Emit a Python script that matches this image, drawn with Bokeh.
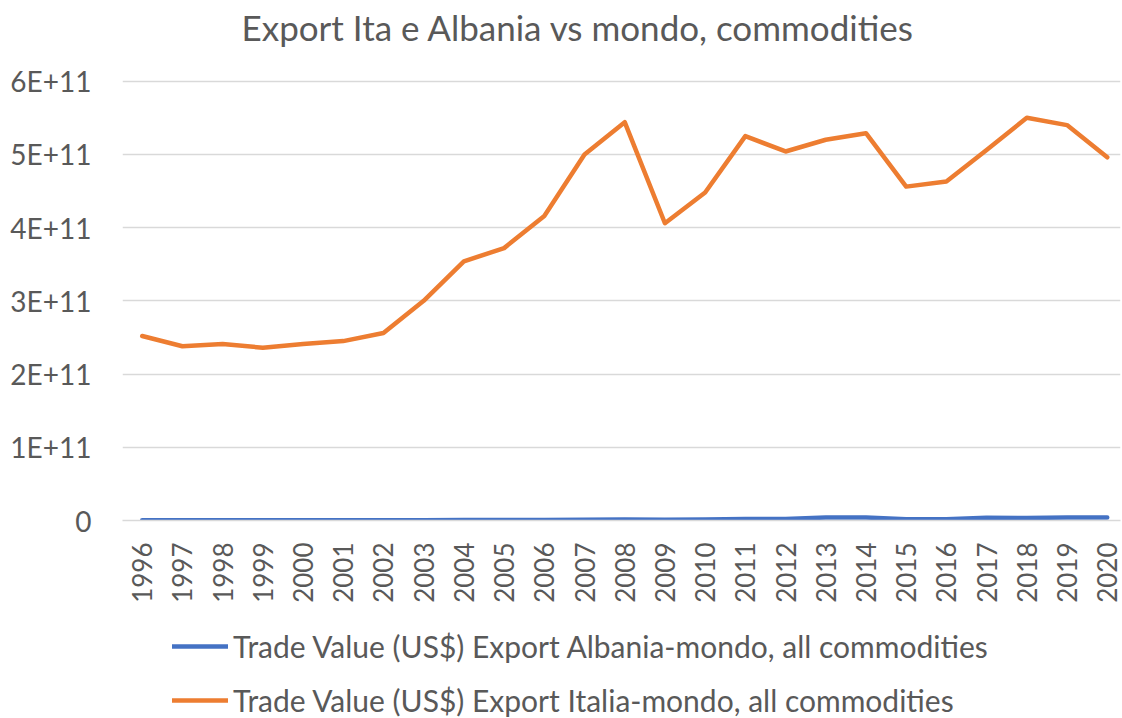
import math
from bokeh.plotting import figure
from bokeh.layouts import column
from bokeh.models import (ColumnDataSource, FixedTicker, CustomJSTickFormatter,
                          Legend, LegendItem, Range1d, Title)
from bokeh.embed import file_html
from bokeh.resources import INLINE

years = list(range(1996, 2021))
italia = [2.52e11, 2.38e11, 2.41e11, 2.36e11, 2.41e11, 2.45e11, 2.56e11, 3.00e11,
          3.54e11, 3.72e11, 4.16e11, 5.00e11, 5.44e11, 4.06e11, 4.48e11, 5.25e11,
          5.04e11, 5.20e11, 5.29e11, 4.56e11, 4.63e11, 5.06e11, 5.50e11, 5.40e11,
          4.96e11]
albania = [0.2e9, 0.2e9, 0.3e9, 0.4e9, 0.3e9, 0.3e9, 0.3e9, 0.4e9,
           0.6e9, 0.7e9, 0.8e9, 1.1e9, 1.3e9, 1.1e9, 1.5e9, 1.9e9,
           2.0e9, 4.0e9, 4.2e9, 1.6e9, 1.8e9, 3.8e9, 3.5e9, 4.0e9,
           4.0e9]
y_ticks = [0, 1e11, 2e11, 3e11, 4e11, 5e11, 6e11]
label_alb = "Trade Value (US$) Export Albania-mondo, all commodities"
label_ita = "Trade Value (US$) Export Italia-mondo, all commodities"
title_text = "Export Ita e Albania vs mondo, commodities"

FONT = "Lato"
GRAY = "#595959"
BLUE = "#4472C4"
ORANGE = "#ED7D31"


def blank(h):
    f = figure(width=1122, height=h, output_backend="svg", toolbar_location=None,
               x_range=Range1d(0, 1), y_range=Range1d(0, 1),
               min_border_left=0, min_border_right=0, min_border_top=0,
               min_border_bottom=0)
    f.axis.visible = False
    f.grid.visible = False
    f.outline_line_color = None
    f.background_fill_color = "white"
    f.border_fill_color = "white"
    return f


# title strip
t = blank(62)
t.title = Title(text=title_text, align="left", offset=119, standoff=6,
                text_font=FONT, text_font_size="35px", text_font_style="normal",
                text_color=GRAY)

# main chart
src = ColumnDataSource(dict(year=years, ita=italia, alb=albania))

p = figure(width=1122, height=556, output_backend="svg", toolbar_location=None,
           x_range=Range1d(1995.51, 2020.33), y_range=Range1d(0, 6.023e11),
           min_border_left=122, min_border_right=2, min_border_top=17,
           min_border_bottom=98)
p.outline_line_color = None
p.background_fill_color = "white"
p.border_fill_color = "white"

p.line("year", "alb", source=src, line_color=BLUE, line_width=4.5,
       line_cap="round", line_join="round")
p.line("year", "ita", source=src, line_color=ORANGE, line_width=4.5,
       line_cap="round", line_join="round")

p.yaxis.ticker = FixedTicker(ticks=y_ticks)
p.yaxis.formatter = CustomJSTickFormatter(
    code="return tick == 0 ? '0' : Math.round(tick/1e11) + 'E+11';")
p.yaxis.axis_line_color = None
p.yaxis.major_tick_line_color = None
p.yaxis.major_tick_out = 0
p.yaxis.major_tick_in = 0
p.yaxis.minor_tick_line_color = None
p.yaxis.major_label_text_font = FONT
p.yaxis.major_label_text_font_size = "28px"
p.yaxis.major_label_text_color = GRAY
p.yaxis.major_label_standoff = 31

p.xaxis.ticker = FixedTicker(ticks=years)
p.xaxis.axis_line_color = "#d9d9d9"
p.xaxis.axis_line_width = 1.5
p.xaxis.major_tick_line_color = None
p.xaxis.major_tick_out = 0
p.xaxis.major_tick_in = 0
p.xaxis.minor_tick_line_color = None
p.xaxis.major_label_orientation = math.pi / 2
p.xaxis.major_label_text_font = FONT
p.xaxis.major_label_text_font_size = "26px"
p.xaxis.major_label_text_color = GRAY
p.xaxis.major_label_standoff = 22

p.xgrid.grid_line_color = None
p.ygrid.ticker = FixedTicker(ticks=y_ticks)
p.ygrid.grid_line_color = "#d9d9d9"
p.ygrid.grid_line_width = 1.5

# legend strip below the chart
q = blank(100)
l_alb = q.line(x=[-5, -4], y=[-5, -4], line_color=BLUE, line_width=4.5,
               line_cap="round")
l_ita = q.line(x=[-5, -4], y=[-5, -4], line_color=ORANGE, line_width=4.5,
               line_cap="round")

legend = Legend(items=[LegendItem(label=label_alb, renderers=[l_alb]),
                       LegendItem(label=label_ita, renderers=[l_ita])],
                orientation="vertical", location=(50, 0))
legend.border_line_color = None
legend.background_fill_alpha = 0
legend.label_text_font = FONT
legend.label_text_font_size = "30px"
legend.label_text_color = GRAY
legend.glyph_width = 56
legend.glyph_height = 30
legend.label_height = 30
legend.spacing = 18
legend.label_standoff = 5
legend.padding = 0
legend.margin = 0
q.add_layout(legend)

layout = column(t, p, q, spacing=0)
open("out.html", "w").write(file_html(layout, INLINE))
